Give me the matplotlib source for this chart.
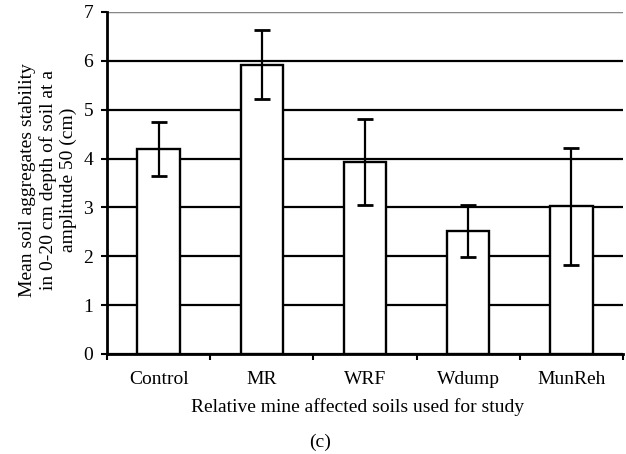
import matplotlib
matplotlib.use("Agg")
import matplotlib.pyplot as plt
import numpy as np

categories = ["Control", "MR", "WRF", "Wdump", "MunReh"]
means = [4.2, 5.92, 3.92, 2.51, 3.02]
errors = [0.55, 0.71, 0.88, 0.53, 1.19]
yticks = [0, 1, 2, 3, 4, 5, 6, 7]

plt.rcParams['font.family'] = ['Liberation Serif', 'DejaVu Serif']

W, H = 626, 454
fig = plt.figure(figsize=(W/100, H/100), dpi=100)
ax = fig.add_axes([107/W, 1-354/H, (623-107)/W, (354-12)/H])

x = np.arange(len(categories))
ax.set_axisbelow(True)
ax.grid(axis='y', color='black', linewidth=1.6)
ax.bar(x, means, width=0.41, color='white', edgecolor='black', linewidth=1.7, zorder=2)
ax.errorbar(x, means, yerr=errors, fmt='none', ecolor='black', elinewidth=1.6,
            capsize=6, capthick=2.0, zorder=3)

ax.set_xlim(-0.5, len(categories)-0.5)
ax.set_ylim(0, 7)
ax.set_yticks(yticks)
ax.set_xticks(x)
ax.set_xticklabels(categories, fontsize=14)
ax.set_xticks(np.arange(-0.5, len(categories), 1.0), minor=True)
ax.tick_params(axis='x', which='major', length=0, pad=12)
ax.tick_params(axis='x', which='minor', length=4, width=1.5, direction='out')
ax.tick_params(axis='y', labelsize=14, length=4, width=1.5, direction='out', pad=6)

for s in ['top', 'right']:
    ax.spines[s].set_visible(False)
ax.spines['left'].set_linewidth(2)
ax.spines['bottom'].set_linewidth(2)
ax.axhline(7, color='#888888', linewidth=1.5, zorder=1)

ax.set_xlabel("Relative mine affected soils used for study", fontsize=14)
ax.xaxis.set_label_coords((358-107)/(623-107), -(398-354)/(354-12))
fig.text(48/W, 1-180/H,
         "Mean soil aggregates stability\nin 0-20 cm depth of soil at a\namplitude 50 (cm)",
         fontsize=14, linespacing=1.2, rotation=90, ha='center', va='center',
         multialignment='center')
fig.text(320/W, 1-442/H, "(c)", fontsize=14, ha='center', va='center')

fig.savefig("out.png", dpi=100)
